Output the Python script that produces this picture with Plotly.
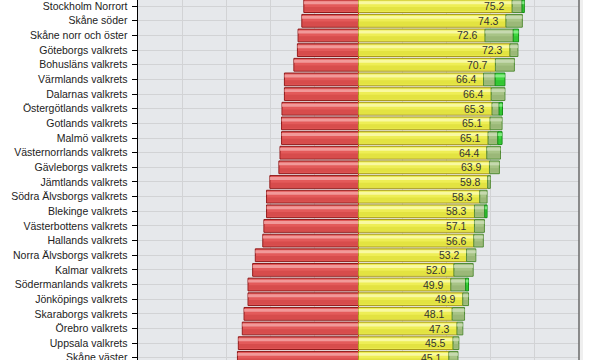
import plotly.graph_objects as go

districts = [
    "Stockholm Norrort", "Skåne söder", "Skåne norr och öster", "Göteborgs valkrets",
    "Bohusläns valkrets", "Värmlands valkrets", "Dalarnas valkrets", "Östergötlands valkrets",
    "Gotlands valkrets", "Malmö valkrets", "Västernorrlands valkrets", "Gävleborgs valkrets",
    "Jämtlands valkrets", "Södra Älvsborgs valkrets", "Blekinge valkrets", "Västerbottens valkrets",
    "Hallands valkrets", "Norra Älvsborgs valkrets", "Kalmar valkrets", "Södermanlands valkrets",
    "Jönköpings valkrets", "Skaraborgs valkrets", "Örebro valkrets", "Uppsala valkrets",
    "Skåne väster",
]
totals = [75.2, 74.3, 72.6, 72.3, 70.7, 66.4, 66.4, 65.3, 65.1, 65.1, 64.4, 63.9, 59.8,
          58.3, 58.3, 57.1, 56.6, 53.2, 52.0, 49.9, 49.9, 48.1, 47.3, 45.5, 45.1]
red_vals = [24.8, 25.7, 27.4, 27.7, 29.3, 33.6, 33.6, 34.7, 34.9, 34.9, 35.6, 36.1, 40.2,
            41.7, 41.7, 42.9, 43.4, 46.8, 48.0, 50.1, 50.1, 51.9, 52.7, 54.5, 54.9]
yellow_vals = [69.7, 66.9, 57.4, 68.7, 62.1, 56.7, 60.2, 60.6, 59.7, 58.8, 58.2, 59.4, 58.6,
               55.0, 52.6, 52.6, 52.3, 49.0, 43.3, 41.9, 47.3, 42.5, 44.7, 42.9, 41.0]
gray_vals = [4.5, 7.4, 12.8, 3.6, 8.6, 5.3, 6.2, 3.2, 5.4, 4.4, 6.2, 4.5, 1.2,
             3.3, 4.7, 4.5, 4.3, 4.2, 8.7, 6.7, 2.6, 5.6, 2.6, 2.6, 4.1]
green_vals = [1.0, 0, 2.4, 0, 0, 4.4, 0, 1.5, 0, 1.9, 0, 0, 0,
              0, 1.0, 0, 0, 0, 0, 1.3, 0, 0, 0, 0, 0]

n = len(districts)
ys = list(range(n))
W = 0.87
FONT = "Liberation Sans, Arial, sans-serif"

fig = go.Figure()


def seg(base, length, fill, line, hi, lo, idx):
    yy = [ys[i] for i in idx]
    bb = [base[i] for i in idx]
    ll = [length[i] for i in idx]
    fig.add_trace(go.Bar(orientation="h", y=yy, x=ll, base=bb, width=W,
                         marker=dict(color=fill, line=dict(color=line, width=1)),
                         hoverinfo="skip", showlegend=False))
    # glossy highlight band near top
    fig.add_trace(go.Bar(orientation="h", y=yy, x=ll, base=bb, width=0.2, offset=-W / 2 + 0.1,
                         marker=dict(color=hi, line=dict(width=0)),
                         hoverinfo="skip", showlegend=False))
    # darker lower band
    fig.add_trace(go.Bar(orientation="h", y=yy, x=ll, base=bb, width=0.3, offset=W / 2 - 0.38,
                         marker=dict(color=lo, line=dict(width=0)),
                         hoverinfo="skip", showlegend=False))


all_idx = list(range(n))
red_base = [-v for v in red_vals]
seg(red_base, red_vals, "#e35a5a", "#8e1818", "rgba(245,175,175,0.75)", "rgba(200,60,60,0.45)", all_idx)
zeros = [0] * n
seg(zeros, yellow_vals, "#eeee55", "#a89a1a", "rgba(250,250,175,0.85)", "rgba(215,215,45,0.5)", all_idx)
gray_base = list(yellow_vals)
seg(gray_base, gray_vals, "#a8c486", "#4f8a32", "rgba(205,222,185,0.8)", "rgba(140,170,105,0.45)", all_idx)
green_base = [yellow_vals[i] + gray_vals[i] for i in range(n)]
g_idx = [i for i in range(n) if green_vals[i] > 0]
seg(green_base, green_vals, "#3ed83e", "#168a16", "rgba(150,240,150,0.8)", "rgba(40,180,40,0.5)", g_idx)

for i in range(n):
    fig.add_annotation(x=yellow_vals[i], y=ys[i], text=f"{totals[i]:.1f}", showarrow=False,
                       xanchor="right", yanchor="middle", xshift=-5, yshift=0,
                       font=dict(family=FONT, size=10.5, color="#333333"))

# right frame edge with soft shadow
fig.add_shape(type="rect", xref="paper", yref="paper", x0=1.0, x1=1.009, y0=0, y1=1,
              fillcolor="#efefef", line=dict(width=0), layer="below")
fig.add_shape(type="line", xref="paper", yref="paper", x0=1.0, x1=1.0, y0=0, y1=1,
              line=dict(color="#6a6a6a", width=1.5))

fig.update_layout(
    width=600, height=360,
    margin=dict(l=138, r=21, t=0, b=0, autoexpand=False),
    barmode="overlay",
    paper_bgcolor="white",
    plot_bgcolor="#e6e8eb",
    font=dict(family=FONT, size=10.5, color="#333333"),
    xaxis=dict(range=[-100, 100], dtick=20, tick0=0, showgrid=True, gridcolor="#d2d3d5",
               gridwidth=1, zeroline=True, zerolinecolor="#ff2020", zerolinewidth=1,
               showticklabels=False, ticks="", showline=False, fixedrange=True,
               automargin=False),
    yaxis=dict(range=[24.15, -0.42], tickmode="array", tickvals=ys, ticktext=districts,
               showgrid=True, gridcolor="#d2d3d5", gridwidth=1, zeroline=False,
               showline=True, linecolor="#000000", linewidth=1.5,
               ticks="outside", ticklen=5, tickcolor="#000000", tickwidth=1,
               tickfont=dict(size=10.5, color="#222222"), ticklabelstandoff=2,
               ticklabeloverflow="allow", automargin=False, fixedrange=True),
)

fig.write_html("out.html", config={"displayModeBar": False, "staticPlot": True},
               post_script="document.body.style.margin='0px';document.body.style.padding='0px';"
                           "document.body.style.overflow='hidden';")
